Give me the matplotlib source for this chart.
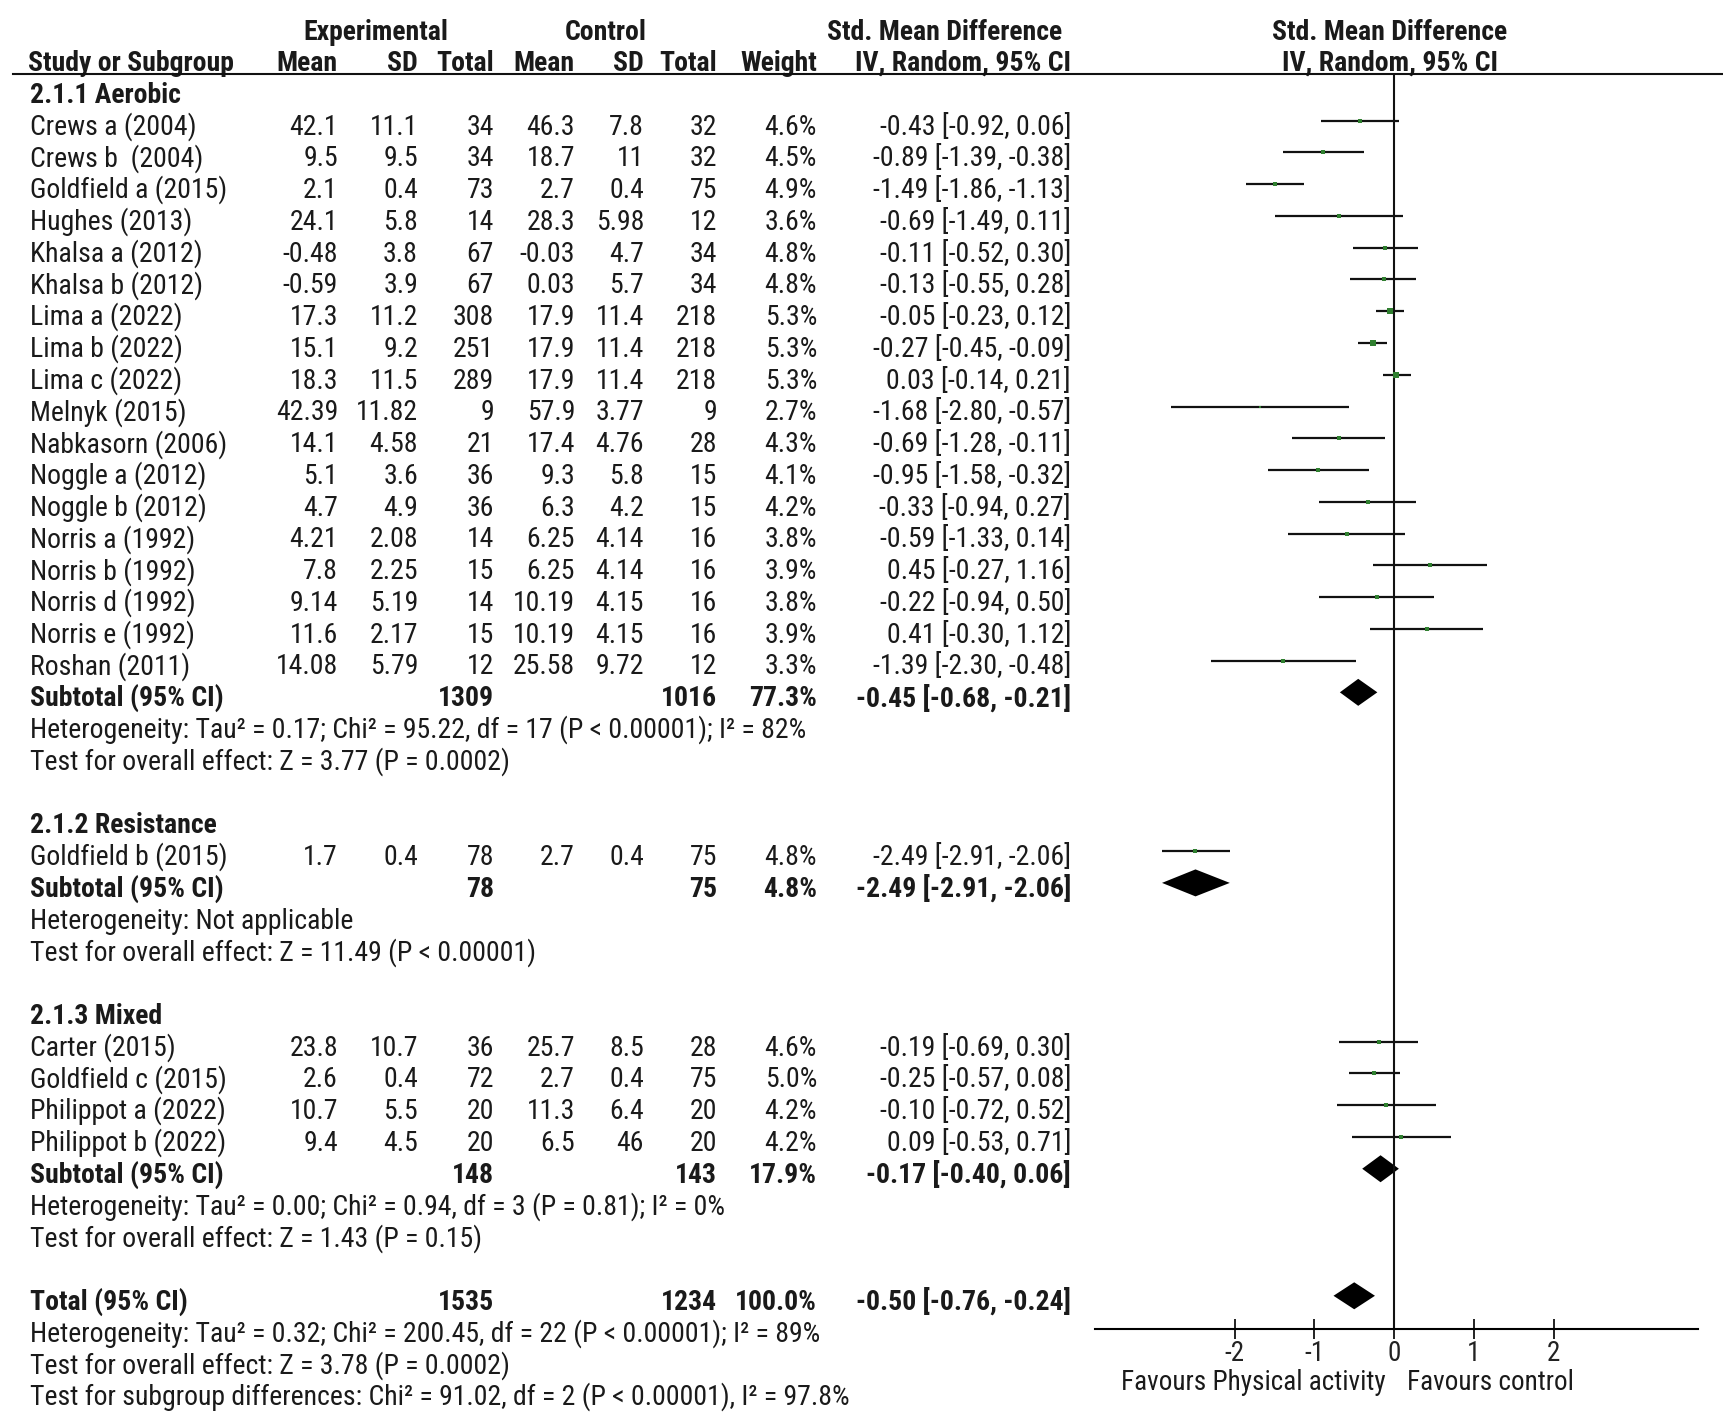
import matplotlib
matplotlib.use("Agg")
import matplotlib.pyplot as plt
import matplotlib.transforms as mtransforms
from matplotlib.lines import Line2D
from matplotlib import font_manager

_names = {f.name for f in font_manager.fontManager.ttflist}
if 'Roboto Condensed' in _names:
    FAMILY, FS, FS_TICK = 'Roboto Condensed', 20, 19.5
else:
    FAMILY, FS, FS_TICK = 'Liberation Sans', 17.3, 16.5
plt.rcParams['font.family'] = [FAMILY, 'Liberation Sans', 'DejaVu Sans']
plt.rcParams['axes.unicode_minus'] = False

# ---------------- data ----------------
group_names = ["2.1.1 Aerobic", "2.1.2 Resistance", "2.1.3 Mixed"]

study = ["Crews a (2004)", "Crews b  (2004)", "Goldfield a (2015)", "Hughes (2013)",
         "Khalsa a (2012)", "Khalsa b (2012)", "Lima a (2022)", "Lima b (2022)",
         "Lima c (2022)", "Melnyk (2015)", "Nabkasorn (2006)", "Noggle a (2012)",
         "Noggle b (2012)", "Norris a (1992)", "Norris b (1992)", "Norris d (1992)",
         "Norris e (1992)", "Roshan (2011)",
         "Goldfield b (2015)",
         "Carter (2015)", "Goldfield c (2015)", "Philippot a (2022)", "Philippot b (2022)"]
study_group = [0]*18 + [1] + [2]*4

exp_mean = [42.1, 9.5, 2.1, 24.1, -0.48, -0.59, 17.3, 15.1, 18.3, 42.39, 14.1, 5.1, 4.7,
            4.21, 7.8, 9.14, 11.6, 14.08, 1.7, 23.8, 2.6, 10.7, 9.4]
exp_sd = [11.1, 9.5, 0.4, 5.8, 3.8, 3.9, 11.2, 9.2, 11.5, 11.82, 4.58, 3.6, 4.9,
          2.08, 2.25, 5.19, 2.17, 5.79, 0.4, 10.7, 0.4, 5.5, 4.5]
exp_n = [34, 34, 73, 14, 67, 67, 308, 251, 289, 9, 21, 36, 36, 14, 15, 14, 15, 12,
         78, 36, 72, 20, 20]
ctl_mean = [46.3, 18.7, 2.7, 28.3, -0.03, 0.03, 17.9, 17.9, 17.9, 57.9, 17.4, 9.3, 6.3,
            6.25, 6.25, 10.19, 10.19, 25.58, 2.7, 25.7, 2.7, 11.3, 6.5]
ctl_sd = [7.8, 11, 0.4, 5.98, 4.7, 5.7, 11.4, 11.4, 11.4, 3.77, 4.76, 5.8, 4.2,
          4.14, 4.14, 4.15, 4.15, 9.72, 0.4, 8.5, 0.4, 6.4, 46]
ctl_n = [32, 32, 75, 12, 34, 34, 218, 218, 218, 9, 28, 15, 15, 16, 16, 16, 16, 12,
         75, 28, 75, 20, 20]
weight = [4.6, 4.5, 4.9, 3.6, 4.8, 4.8, 5.3, 5.3, 5.3, 2.7, 4.3, 4.1, 4.2, 3.8, 3.9,
          3.8, 3.9, 3.3, 4.8, 4.6, 5.0, 4.2, 4.2]
smd = [-0.43, -0.89, -1.49, -0.69, -0.11, -0.13, -0.05, -0.27, 0.03, -1.68, -0.69, -0.95,
       -0.33, -0.59, 0.45, -0.22, 0.41, -1.39, -2.49, -0.19, -0.25, -0.10, 0.09]
ci_lo = [-0.92, -1.39, -1.86, -1.49, -0.52, -0.55, -0.23, -0.45, -0.14, -2.80, -1.28, -1.58,
         -0.94, -1.33, -0.27, -0.94, -0.30, -2.30, -2.91, -0.69, -0.57, -0.72, -0.53]
ci_hi = [0.06, -0.38, -1.13, 0.11, 0.30, 0.28, 0.12, -0.09, 0.21, -0.57, -0.11, -0.32,
         0.27, 0.14, 1.16, 0.50, 1.12, -0.48, -2.06, 0.30, 0.08, 0.52, 0.71]

sub_exp_n = [1309, 78, 148]
sub_ctl_n = [1016, 75, 143]
sub_weight = [77.3, 4.8, 17.9]
sub_smd = [-0.45, -2.49, -0.17]
sub_lo = [-0.68, -2.91, -0.40]
sub_hi = [-0.21, -2.06, 0.06]
sub_het = ["Heterogeneity: Tau\u00b2 = 0.17; Chi\u00b2 = 95.22, df = 17 (P < 0.00001); I\u00b2 = 82%",
           "Heterogeneity: Not applicable",
           "Heterogeneity: Tau\u00b2 = 0.00; Chi\u00b2 = 0.94, df = 3 (P = 0.81); I\u00b2 = 0%"]
sub_test = ["Test for overall effect: Z = 3.77 (P = 0.0002)",
            "Test for overall effect: Z = 11.49 (P < 0.00001)",
            "Test for overall effect: Z = 1.43 (P = 0.15)"]

tot_exp_n, tot_ctl_n, tot_weight = 1535, 1234, 100.0
tot_smd, tot_lo, tot_hi = -0.50, -0.76, -0.24
tot_lines = ["Heterogeneity: Tau\u00b2 = 0.32; Chi\u00b2 = 200.45, df = 22 (P < 0.00001); I\u00b2 = 89%",
             "Test for overall effect: Z = 3.78 (P = 0.0002)",
             "Test for subgroup differences: Chi\u00b2 = 91.02, df = 2 (P < 0.00001), I\u00b2 = 97.8%"]

x_ticks = [-2, -1, 0, 1, 2]
favours_left = "Favours Physical activity"
favours_right = "Favours control"

# ---------------- layout ----------------
W, H = 1724, 1416
ROW0, ROWH = 88.9, 31.76          # pixel y of row 0 and row height
Y_TOP, Y_AX = 73.5, 1329.0        # header rule and x-axis line (pixels)
fig = plt.figure(figsize=(W / 100, H / 100), dpi=100)
ax = fig.add_axes([1095 / W, 1 - Y_AX / H, 603 / W, (Y_AX - Y_TOP) / H])
ax.set_xlim(-3.75, 3.81)
ax.set_ylim((Y_AX - ROW0) / ROWH, (Y_TOP - ROW0) / ROWH)
for s in ['top', 'left', 'right']:
    ax.spines[s].set_visible(False)
ax.spines['bottom'].set_linewidth(1.5)
ax.set_yticks([])
ax.set_xticks(x_ticks)
ax.tick_params(axis='x', direction='inout', length=14, width=1.4, pad=1,
               labelsize=FS_TICK, colors='#222222')
ax.axvline(0, color='#111111', lw=1.5)

blend = mtransforms.blended_transform_factory(fig.transFigure, ax.transData)
col_name = 30 / W
col_right = {'em': 338 / W, 'esd': 418 / W, 'en': 494 / W, 'cm': 575 / W,
             'csd': 644 / W, 'cn': 717 / W, 'w': 817 / W, 'ci': 1071 / W}
txtc = '#1a1a1a'
# baseline offset (in rows): digit centre sits ~4 px below the row's marks
BASE_OFF = (4 + 0.71 * FS * 100 / 72 / 2) / ROWH


def put(x, y, s, ha='right', bold=False, size=FS):
    ax.text(x, y + BASE_OFF, s, transform=blend, ha=ha, va='baseline', fontsize=size,
            fontweight='bold' if bold else 'normal', color=txtc, clip_on=False)


def fmt(v):
    return f"{v:g}"


def ci_txt(e, lo, hi):
    return f"{e:.2f} [{lo:.2f}, {hi:.2f}]"


# header
put(376 / W, -1.98, "Experimental", ha='center', bold=True)
put(606 / W, -1.98, "Control", ha='center', bold=True)
put(945 / W, -1.98, "Std. Mean Difference", ha='center', bold=True)
put(1390 / W, -1.98, "Std. Mean Difference", ha='center', bold=True)
put(col_name - 2 / W, -1.0, "Study or Subgroup", ha='left', bold=True)
for key, lab in [('em', 'Mean'), ('esd', 'SD'), ('en', 'Total'), ('cm', 'Mean'),
                 ('csd', 'SD'), ('cn', 'Total'), ('w', 'Weight'), ('ci', 'IV, Random, 95% CI')]:
    put(col_right[key], -1.0, lab, bold=True)
put(1390 / W, -1.0, "IV, Random, 95% CI", ha='center', bold=True)
y_rule = (Y_TOP - ROW0) / ROWH
fig.add_artist(Line2D([13 / W, 1.0], [y_rule, y_rule], transform=blend,
                      color='#111111', lw=1.5))


def diamond(row, e, lo, hi, h=0.425):
    ax.fill([lo, e, hi, e], [row, row - h, row, row + h], color='black', lw=0)


row = 0
for g, gname in enumerate(group_names):
    put(col_name, row, gname, ha='left', bold=True)
    row += 1
    for i in range(len(study)):
        if study_group[i] != g:
            continue
        put(col_name, row, study[i], ha='left')
        put(col_right['em'], row, fmt(exp_mean[i]))
        put(col_right['esd'], row, fmt(exp_sd[i]))
        put(col_right['en'], row, str(exp_n[i]))
        put(col_right['cm'], row, fmt(ctl_mean[i]))
        put(col_right['csd'], row, fmt(ctl_sd[i]))
        put(col_right['cn'], row, str(ctl_n[i]))
        put(col_right['w'], row, f"{weight[i]:.1f}%")
        put(col_right['ci'], row, ci_txt(smd[i], ci_lo[i], ci_hi[i]))
        ax.plot([ci_lo[i], ci_hi[i]], [row, row], color='#111111', lw=1.6,
                solid_capstyle='butt')
        ax.plot(smd[i], row, marker='s', color='#2f7f2f', ms=weight[i] * 0.7,
                mew=0, ls='none')
        row += 1
    put(col_name, row, "Subtotal (95% CI)", ha='left', bold=True)
    put(col_right['en'], row, str(sub_exp_n[g]), bold=True)
    put(col_right['cn'], row, str(sub_ctl_n[g]), bold=True)
    put(col_right['w'], row, f"{sub_weight[g]:.1f}%", bold=True)
    put(col_right['ci'], row, ci_txt(sub_smd[g], sub_lo[g], sub_hi[g]), bold=True)
    diamond(row, sub_smd[g], sub_lo[g], sub_hi[g])
    row += 1
    put(col_name, row, sub_het[g], ha='left')
    row += 1
    put(col_name, row, sub_test[g], ha='left')
    row += 2

put(col_name, row, "Total (95% CI)", ha='left', bold=True)
put(col_right['en'], row, str(tot_exp_n), bold=True)
put(col_right['cn'], row, str(tot_ctl_n), bold=True)
put(col_right['w'], row, f"{tot_weight:.1f}%", bold=True)
put(col_right['ci'], row, ci_txt(tot_smd, tot_lo, tot_hi), bold=True)
diamond(row, tot_smd, tot_lo, tot_hi)
for line in tot_lines:
    row += 1
    put(col_name, row, line, ha='left')

y_fav = (1382 - ROW0) / ROWH
ax.text(-0.11, y_fav, favours_left, ha='right', va='center', fontsize=FS_TICK,
        color=txtc, clip_on=False)
ax.text(0.16, y_fav, favours_right, ha='left', va='center', fontsize=FS_TICK,
        color=txtc, clip_on=False)

fig.savefig("out.png", dpi=100, facecolor='white')
